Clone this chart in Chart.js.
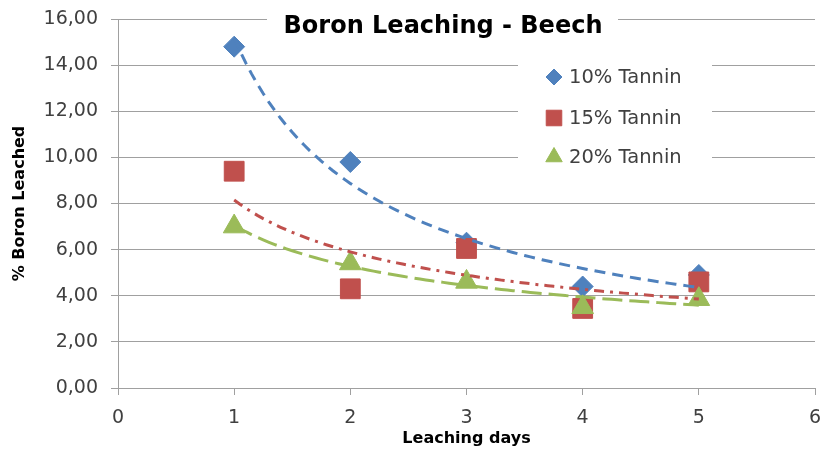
<!DOCTYPE html>
<html>
<head>
<meta charset="utf-8">
<script src="https://cdn.jsdelivr.net/npm/chart.js@4.4.0/dist/chart.umd.min.js"></script>
<style>
  html, body { margin: 0; padding: 0; background: #fff; }
  #wrap { width: 821px; height: 452px; }
</style>
</head>
<body>
<div id="wrap"><canvas id="graficoBoro" width="821" height="452"></canvas></div>
<script>
// leaching days and % boron leached per tannin level
var days = [1, 2, 3, 4, 5];
var tannin10 = [14.8, 9.8, 6.3, 4.4, 4.9];
var tannin15 = [9.4, 4.3, 6.05, 3.45, 4.6];
var tannin20 = [7.0, 5.4, 4.6, 3.5, 3.85];
var seriesNames = ["10% Tannin", "15% Tannin", "20% Tannin"];

var blue = '#4F81BD', red = '#C0504D', green = '#9BBB59';

function pts(ys) {
    return days.map(function (d, i) { return { x: d, y: ys[i] }; });
}

// power trendline (y = a * x^b), least squares on logs, like Excel
function powerFit(xs, ys) {
    var n = xs.length, sx = 0, sy = 0, sxx = 0, sxy = 0;
    for (var i = 0; i < n; i++) {
        var lx = Math.log(xs[i]), ly = Math.log(ys[i]);
        sx += lx; sy += ly; sxx += lx * lx; sxy += lx * ly;
    }
    var b = (n * sxy - sx * sy) / (n * sxx - sx * sx);
    var a = Math.exp((sy - b * sx) / n);
    var out = [];
    for (var x = days[0]; x <= days[days.length - 1] + 1e-9; x += 0.05) {
        out.push({ x: x, y: a * Math.pow(x, b) });
    }
    return out;
}

function trend(ys, color, dash, ord) {
    return {
        type: 'line',
        data: powerFit(days, ys),
        borderColor: color,
        borderWidth: 3,
        borderDash: dash,
        pointRadius: 0,
        fill: false,
        tension: 0,
        order: ord
    };
}

var titlePlugin = {
    id: 'chartTitle',
    afterDraw: function (chart) {
        var c = chart.ctx;
        c.save();
        c.fillStyle = '#fff';
        c.fillRect(267, 2, 351, 40);
        c.fillStyle = '#000';
        c.font = 'bold 24px "DejaVu Sans"';
        c.textAlign = 'center';
        c.textBaseline = 'alphabetic';
        c.fillText('Boron Leaching - Beech', 443, 33);
        c.restore();
    }
};

var legendPlugin = {
    id: 'insideLegend',
    afterDraw: function (chart) {
        var c = chart.ctx;
        var rows = [77, 118, 157];
        var marks = [
            { pointStyle: 'rectRot', radius: 8, color: blue },
            { pointStyle: 'rect', radius: 11, color: red },
            { pointStyle: 'triangle', radius: 9.5, color: green }
        ];
        c.save();
        c.fillStyle = '#fff';
        c.fillRect(518, 58, 194, 118);
        c.font = '19.5px "DejaVu Sans"';
        c.textBaseline = 'middle';
        for (var i = 0; i < 3; i++) {
            c.fillStyle = marks[i].color;
            c.strokeStyle = marks[i].color;
            c.lineWidth = 1;
            Chart.helpers.drawPoint(c, { pointStyle: marks[i].pointStyle, radius: marks[i].radius, borderWidth: 1, rotation: 0 }, 554, rows[i]);
            c.fillStyle = '#404040';
            c.fillText(seriesNames[i], 569, rows[i] + 1);
        }
        c.restore();
    }
};

var ctx = document.getElementById("graficoBoro");

var myChart = new Chart(ctx, {
    type: 'scatter',
    data: {
        datasets: [
            trend(tannin10, blue, [11, 7], 0),
            trend(tannin15, red, [10, 6, 3, 6], 0),
            trend(tannin20, green, [20, 7], 0),
            {
                label: seriesNames[2],
                data: pts(tannin20),
                pointStyle: 'triangle',
                pointRadius: 12.5,
                backgroundColor: green,
                borderColor: green,
                order: 1
            },
            {
                label: seriesNames[1],
                data: pts(tannin15),
                pointStyle: 'rect',
                pointRadius: 14,
                backgroundColor: red,
                borderColor: red,
                order: 2
            },
            {
                label: seriesNames[0],
                data: pts(tannin10),
                pointStyle: 'rectRot',
                pointRadius: 10.5,
                backgroundColor: blue,
                borderColor: blue,
                order: 3
            }
        ]
    },
    options: {
        responsive: false,
        animation: false,
        layout: { autoPadding: false, padding: { left: 6, right: 6, top: 19, bottom: 0 } },
        plugins: {
            legend: { display: false },
            tooltip: { enabled: false },
            title: { display: false }
        },
        scales: {
            x: {
                type: 'linear',
                min: 0,
                max: 6,
                ticks: { stepSize: 1, color: '#404040', font: { family: 'DejaVu Sans', size: 19 }, padding: 12 },
                grid: { drawOnChartArea: false, drawTicks: true, tickLength: 7, color: '#A0A0A0' },
                border: { color: '#A0A0A0', width: 1 },
                title: { display: true, text: 'Leaching days', color: '#000', font: { family: 'DejaVu Sans', size: 16, weight: 'bold' }, padding: { top: 2 } },
                afterFit: function (scale) {
                    scale.height = 452 - 388;
                    scale.paddingLeft = 0;
                    scale.paddingRight = 0;
                }
            },
            y: {
                min: 0,
                max: 16,
                ticks: {
                    stepSize: 2,
                    color: '#404040',
                    font: { family: 'DejaVu Sans', size: 19 },
                    padding: 13,
                    callback: function (v) { return v.toFixed(2).replace('.', ','); }
                },
                grid: { color: '#A0A0A0', tickLength: 7, lineWidth: 1 },
                border: { color: '#A0A0A0', width: 1 },
                title: { display: true, text: '% Boron Leached', color: '#000', font: { family: 'DejaVu Sans', size: 16, weight: 'bold' }, padding: { bottom: 0 } },
                afterFit: function (scale) {
                    scale.width = 118 - 6;
                    scale.paddingTop = 0;
                    scale.paddingBottom = 0;
                }
            }
        }
    },
    plugins: [titlePlugin, legendPlugin]
});
</script>
</body>
</html>
